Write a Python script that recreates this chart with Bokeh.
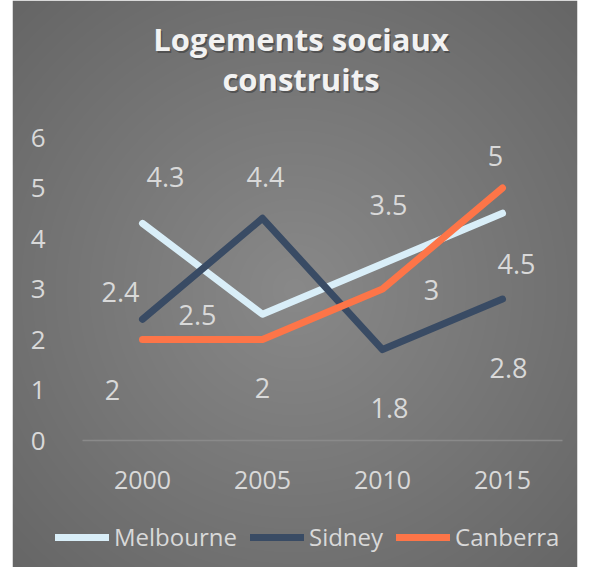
import numpy as np
from bokeh.plotting import figure
from bokeh.models import (Range1d, LinearAxis, FixedTicker, ColumnDataSource,
                          Label, LabelSet)
from bokeh.core.properties import value
from bokeh.embed import file_html
from bokeh.resources import INLINE

# ---- data ----
years = [2000, 2005, 2010, 2015]
series_names = ["Melbourne", "Sidney", "Canberra"]
melbourne = [4.3, 2.5, 3.5, 4.5]
sidney = [2.4, 4.4, 1.8, 2.8]
canberra = [2, 2, 3, 5]
y_ticks = [0, 1, 2, 3, 4, 5, 6]
title_lines = ["Logements sociaux", "construits"]

# ---- styles ----
colors = ["#d9eef8", "#394b64", "#fd7548"]
text_color = "#d9d9d9"
FONT = "Open Sans"

# label offsets in pixels (dx right, dy up)
label_dx = [[23, -65, 6, 14], [-22, 3, 7, 6], [-30, 0, 49, -7]]
label_dy = [[46, -1, 59, -51], [27, 41, -58, -69], [-50, -48, -1, 32]]

W, H = 590, 567
left_b, right_b = 12, 13
fw, fh = W - left_b - right_b, H
# pixel geometry of the frame
px_per_year = 24.0
px_per_unit = 50.5
x0_px = 130.0          # frame-left -> 2000
y0_px = 127.0          # frame-bottom -> 0

x_start = years[0] - x0_px / px_per_year
x_end = x_start + fw / px_per_year
y_start = -y0_px / px_per_unit
y_end = y_start + fh / px_per_unit

p = figure(width=W, height=H, output_backend="svg", toolbar_location=None,
           x_range=Range1d(x_start, x_end), y_range=Range1d(y_start, y_end),
           x_axis_location=None, y_axis_location=None, title=None,
           min_border_left=left_b, min_border_right=right_b,
           min_border_top=0, min_border_bottom=0)
p.border_fill_color = "white"
p.outline_line_color = None
p.xgrid.visible = False
p.ygrid.visible = False

# radial gradient background of the panel
ny, nx = fh, fw
yy, xx = np.mgrid[0:ny, 0:nx]
cx, cy = 282.0, 567 - 290.0
r = np.sqrt(((xx - cx) / 400.0) ** 2 + ((yy - cy) / 400.0) ** 2)
r = np.clip(r, 0, 1)
c = (137 - 35 * r).astype(np.uint32)
img = (255 << 24) | (c << 16) | (c << 8) | c
p.image_rgba(image=[img.view(np.uint32)], x=x_start, y=y_start,
             dw=x_end - x_start, dh=y_end - y_start)

# baseline (zero line) across the category band
p.segment(x0=[years[0] - 2.5], y0=[0], x1=[years[-1] + 2.5], y1=[0],
          line_color="#8a8a8a", line_width=1.5)

# axes placed inside the frame
xaxis = LinearAxis(fixed_location=0, ticker=FixedTicker(ticks=years))
xaxis.axis_line_color = None
xaxis.major_tick_line_color = None
xaxis.minor_tick_line_color = None
xaxis.major_label_text_color = text_color
xaxis.major_label_text_font = FONT
xaxis.major_label_text_font_size = "25px"
xaxis.major_label_standoff = 24
p.add_layout(xaxis, "below")

yaxis = LinearAxis(fixed_location=years[0] - 90 / px_per_year,
                   ticker=FixedTicker(ticks=y_ticks))
yaxis.axis_line_color = None
yaxis.major_tick_line_color = None
yaxis.minor_tick_line_color = None
yaxis.major_label_text_color = text_color
yaxis.major_label_text_font = FONT
yaxis.major_label_text_font_size = "26px"
yaxis.major_label_standoff = 1
p.add_layout(yaxis, "left")

all_vals = [melbourne, sidney, canberra]
for name, vals, col in zip(series_names, all_vals, colors):
    src = ColumnDataSource(dict(x=years, y=vals))
    p.line("x", "y", source=src, line_color=col, line_width=7,
           line_cap="round", line_join="round", legend_label=name)

for name, vals, dx, dy in zip(series_names, all_vals, label_dx, label_dy):
    src = ColumnDataSource(dict(x=years, y=vals, txt=[f"{v:g}" for v in vals],
                                dx=dx, dy=dy))
    ls = LabelSet(x="x", y="y", text="txt", source=src, x_offset="dx", y_offset="dy",
                  text_align="center", text_baseline="middle",
                  text_color=text_color, text_font=value(FONT),
                  text_font_size="27px")
    p.add_layout(ls)

# title
baselines = [46, 86]
for line, bl in zip(title_lines, baselines):
    ysc = fh - (bl - 8)
    sh = Label(x=290, y=ysc - 2.5, x_units="screen", y_units="screen", text=line,
               text_align="center", text_baseline="alphabetic", text_color="black",
               text_alpha=0.3, text_font=FONT, text_font_style="bold",
               text_font_size="31px")
    t = Label(x=288.5, y=ysc, x_units="screen", y_units="screen", text=line,
              text_align="center", text_baseline="alphabetic", text_color="#f2f2f2",
              text_font=FONT, text_font_style="bold", text_font_size="31px")
    p.add_layout(sh)
    p.add_layout(t)

lg = p.legend[0]
lg.orientation = "horizontal"
lg.location = (43, 14)
lg.padding = 0
lg.margin = 0
lg.spacing = 13
lg.glyph_width = 54
lg.glyph_height = 20
lg.label_standoff = 5
lg.label_text_font = FONT
lg.label_text_font_size = "24px"
lg.label_text_color = text_color
lg.background_fill_alpha = 0
lg.border_line_alpha = 0

open("out.html", "w").write(file_html(p, INLINE))
